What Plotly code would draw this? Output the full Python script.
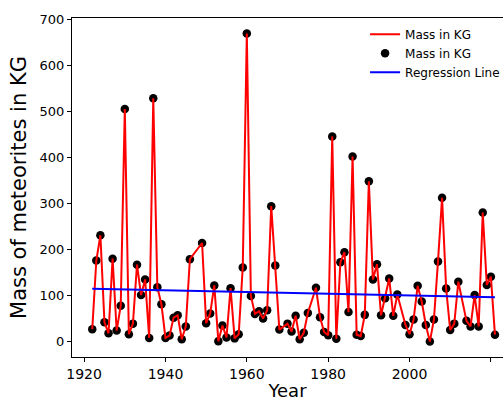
import numpy as np
import plotly.graph_objects as go

# Yearly meteorite mass (kg)
years = [1922, 1923, 1924, 1925, 1926, 1927, 1928, 1929, 1930, 1931,
         1932, 1933, 1934, 1935, 1936, 1937, 1938, 1939, 1940, 1941,
         1942, 1943, 1944, 1945, 1946, 1949, 1950, 1951, 1952, 1953,
         1954, 1955, 1956, 1957, 1958, 1959, 1960, 1961, 1962, 1963,
         1964, 1965, 1966, 1967, 1968, 1970, 1971, 1972, 1973, 1974,
         1975, 1977, 1978, 1979, 1980, 1981, 1982, 1983, 1984, 1985,
         1986, 1987, 1988, 1989, 1990, 1991, 1992, 1993, 1994, 1995,
         1996, 1997, 1999, 2000, 2001, 2002, 2003, 2004, 2005, 2006,
         2007, 2008, 2009, 2010, 2011, 2012, 2014, 2015, 2016, 2017,
         2018, 2019, 2020, 2021]
mass_kg = [27, 176, 231, 42, 18, 180, 24, 78, 505, 16,
           39, 167, 101, 135, 8, 528, 118, 81, 8, 13,
           52, 57, 5, 33, 179, 214, 40, 61, 122, 1,
           35, 9, 116, 7, 16, 161, 669, 99, 60, 66,
           50, 68, 294, 165, 26, 39, 22, 56, 5, 19,
           62, 117, 53, 21, 14, 445, 6, 172, 194, 64,
           402, 15, 12, 58, 348, 135, 168, 57, 94, 137,
           56, 102, 36, 16, 48, 121, 87, 36, 0, 48,
           174, 312, 115, 25, 39, 130, 45, 33, 101, 33,
           280, 123, 141, 15]

x_ticks = [1920, 1940, 1960, 1980, 2000, 2020]
y_ticks = [0, 100, 200, 300, 400, 500, 600, 700]

# Least-squares trend over the years
slope, intercept = np.polyfit(years, mass_kg, 1)
trend = [slope * yr + intercept for yr in years]

FONT = "DejaVu Sans"

fig = go.Figure()
fig.add_trace(go.Scatter(
    x=years, y=mass_kg, mode="markers", name="Mass in KG",
    marker=dict(color="black", size=8.5), legendrank=2,
))
fig.add_trace(go.Scatter(
    x=years, y=mass_kg, mode="lines", name="Mass in KG",
    line=dict(color="#ff0000", width=2), legendrank=1,
))
fig.add_trace(go.Scatter(
    x=years, y=trend, mode="lines", name="Regression Line",
    line=dict(color="#0000ff", width=2), legendrank=3,
))

fig.update_layout(
    width=503, height=401,
    margin=dict(l=72, r=0, t=18, b=44, autoexpand=False),
    plot_bgcolor="white", paper_bgcolor="white",
    font=dict(family=FONT, color="black", size=12),
    legend=dict(
        x=0.68, y=0.995, xanchor="left", yanchor="top",
        bgcolor="rgba(255,255,255,0.8)", font=dict(size=12, family=FONT),
        itemwidth=30, tracegroupgap=0,
    ),
    xaxis=dict(
        range=[1917.02, 2022.98], tickvals=x_ticks,
        showgrid=False, zeroline=False, automargin=False,
        showline=True, linecolor="black", linewidth=1, mirror=True,
        ticks="outside", ticklen=4, tickcolor="black",
        tickfont=dict(size=14),
        title=dict(text="Year", font=dict(size=18), standoff=9),
    ),
    yaxis=dict(
        range=[-33.45, 702.45], tickvals=y_ticks,
        showgrid=False, zeroline=False, automargin=False,
        showline=True, linecolor="black", linewidth=1,
        ticks="outside", ticklen=4, tickcolor="black",
        tickfont=dict(size=13),
        title=dict(text="Mass of meteorites in KG", font=dict(size=21), standoff=7),
    ),
)

fig.write_html("out.html")
